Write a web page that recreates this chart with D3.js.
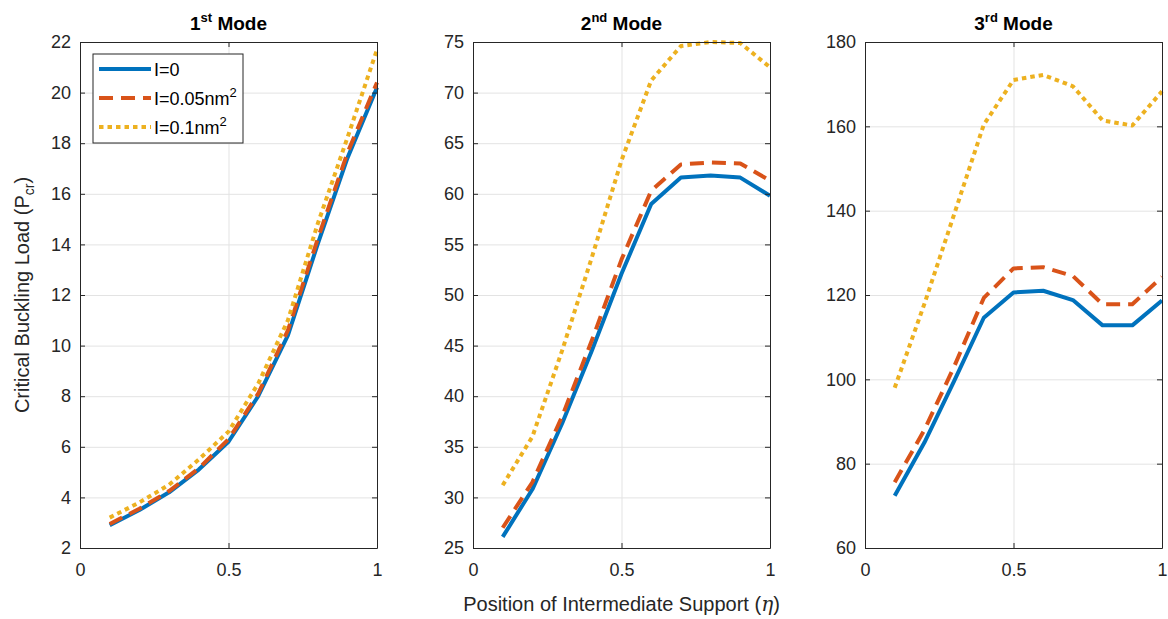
<!DOCTYPE html>
<html>
<head>
<meta charset="utf-8">
<script src="https://cdnjs.cloudflare.com/ajax/libs/d3/7.8.5/d3.min.js"></script>
<style>
    body { margin: 0; background: #fff; }
    svg { font-family: "Liberation Sans", Arial, sans-serif; }
</style>
</head>
<body>
<div class="chart-wrapper"></div>
<script>
// position of the intermediate support
var eta = [0.1, 0.2, 0.3, 0.4, 0.5, 0.6, 0.7, 0.8, 0.9, 1.0];

// 1st mode
var mode1_I0 = [2.9, 3.5, 4.2, 5.1, 6.2, 8.0, 10.4, 14.0, 17.4, 20.2];
var mode1_I005 = [2.95, 3.55, 4.25, 5.15, 6.3, 8.1, 10.6, 14.2, 17.6, 20.4];
var mode1_I01 = [3.2, 3.8, 4.5, 5.5, 6.6, 8.5, 11.0, 14.8, 18.2, 21.7];

// 2nd mode
var mode2_I0 = [26.1, 30.8, 37.3, 44.5, 52.1, 59.0, 61.6, 61.8, 61.6, 59.8];
var mode2_I005 = [27.0, 31.5, 38.0, 45.5, 53.5, 60.3, 62.9, 63.1, 63.0, 61.3];
var mode2_I01 = [31.2, 36.0, 44.5, 53.7, 63.3, 71.2, 74.6, 75.0, 74.9, 72.5];

// 3rd mode
var mode3_I0 = [72.4, 85.0, 99.6, 114.6, 120.6, 121.0, 118.8, 112.8, 112.8, 118.7];
var mode3_I005 = [75.6, 88.0, 103.0, 119.3, 126.3, 126.6, 124.5, 117.8, 117.8, 124.3];
var mode3_I01 = [98.0, 117.9, 139.1, 160.4, 171.0, 172.2, 169.5, 161.4, 160.2, 168.3];

var xTicks = [0, 0.5, 1];
var yTicks1 = [2, 4, 6, 8, 10, 12, 14, 16, 18, 20, 22];
var yTicks2 = [25, 30, 35, 40, 45, 50, 55, 60, 65, 70, 75];
var yTicks3 = [60, 80, 100, 120, 140, 160, 180];

var seriesNames = ["I=0", "I=0.05nm", "I=0.1nm"];
var seriesSup = ["", "2", "2"];
var colors = ["#0072BD", "#D95319", "#EDB120"];
var dashes = [null, "14,8", "4.5,4"];

var panels = [
    {title: "1", sup: "st", data: [mode1_I0, mode1_I005, mode1_I01], ticks: yTicks1, left: 80},
    {title: "2", sup: "nd", data: [mode2_I0, mode2_I005, mode2_I01], ticks: yTicks2, left: 473},
    {title: "3", sup: "rd", data: [mode3_I0, mode3_I005, mode3_I01], ticks: yTicks3, left: 865}
];

var plotW = 297, marginTop = 42, plotH = 506;
var axisColor = "#262626";

var svg = d3.select(".chart-wrapper").append("svg")
    .attr("width", 1168)
    .attr("height", 619);

panels.forEach(function (p) {
    var x = d3.scaleLinear().domain([0, 1]).range([0, plotW]);
    var y = d3.scaleLinear().domain([p.ticks[0], p.ticks[p.ticks.length - 1]]).range([plotH, 0]);

    var g = svg.append("g")
        .attr("transform", "translate(" + p.left + "," + marginTop + ")");

    // grid
    g.append("g")
        .attr("class", "grid")
        .attr("transform", "translate(0," + plotH + ")")
        .call(d3.axisBottom(x).tickValues(xTicks).tickSize(-plotH).tickFormat(""))
        .call(function (s) { s.select(".domain").remove(); });
    g.append("g")
        .attr("class", "grid")
        .call(d3.axisLeft(y).tickValues(p.ticks).tickSize(-plotW).tickFormat(""))
        .call(function (s) { s.select(".domain").remove(); });
    g.selectAll(".grid line").attr("stroke", "#e3e3e3").attr("stroke-width", 1);

    // lines
    var line = d3.line()
        .x(function (d, i) { return x(eta[i]); })
        .y(function (d) { return y(d); });

    p.data.forEach(function (vals, k) {
        g.append("path")
            .datum(vals)
            .attr("fill", "none")
            .attr("stroke", colors[k])
            .attr("stroke-width", 4)
            .attr("stroke-linejoin", "round")
            .attr("stroke-dasharray", dashes[k])
            .attr("d", line);
    });

    // axes (box with inward ticks)
    var xAxis = d3.axisBottom(x).tickValues(xTicks).tickSizeInner(-5).tickSizeOuter(0)
        .tickPadding(15).tickFormat(d3.format("~g"));
    var yAxis = d3.axisLeft(y).tickValues(p.ticks).tickSizeInner(-5).tickSizeOuter(0)
        .tickPadding(9);

    g.append("g")
        .attr("class", "axis")
        .attr("transform", "translate(0," + plotH + ")")
        .call(xAxis);
    g.append("g")
        .attr("class", "axis")
        .call(yAxis);
    g.append("g")
        .attr("class", "axis")
        .call(d3.axisTop(x).tickValues(xTicks).tickSizeInner(-5).tickSizeOuter(0).tickFormat(""));
    g.append("g")
        .attr("class", "axis")
        .attr("transform", "translate(" + plotW + ",0)")
        .call(d3.axisRight(y).tickValues(p.ticks).tickSizeInner(-5).tickSizeOuter(0).tickFormat(""));

    g.selectAll(".axis .domain").attr("stroke", axisColor);
    g.selectAll(".axis line").attr("stroke", axisColor);
    g.selectAll(".axis text")
        .attr("fill", axisColor)
        .style("font-size", "18px")
        .style("font-family", "'Liberation Sans', Arial, sans-serif");

    // title
    var t = svg.append("text")
        .attr("x", p.left + plotW / 2)
        .attr("y", 30)
        .attr("text-anchor", "middle")
        .attr("fill", "#000")
        .style("font-weight", "bold")
        .style("font-size", "19px");
    t.append("tspan").text(p.title);
    t.append("tspan").attr("dy", -8).style("font-size", "13px").text(p.sup);
    t.append("tspan").attr("dy", 8).text(" Mode");
});

// y label
var yl = svg.append("text")
    .attr("transform", "translate(29," + (marginTop + plotH / 2) + ") rotate(-90)")
    .attr("text-anchor", "middle")
    .attr("fill", axisColor)
    .style("font-size", "20px");
yl.append("tspan").text("Critical Buckling Load (P");
yl.append("tspan").attr("dy", 5).style("font-size", "14px").text("cr");
yl.append("tspan").attr("dy", -5).text(")");

// x label
var xl = svg.append("text")
    .attr("x", 473 + plotW / 2)
    .attr("y", 611)
    .attr("text-anchor", "middle")
    .attr("fill", axisColor)
    .style("font-size", "20px");
xl.append("tspan").text("Position of Intermediate Support (");
xl.append("tspan").style("font-style", "italic").style("font-family", "'DejaVu Serif', serif").text("η");
xl.append("tspan").text(")");

// legend
var legend = svg.append("g").attr("transform", "translate(93,54)");
legend.append("rect")
    .attr("width", 150)
    .attr("height", 89)
    .attr("fill", "#fff")
    .attr("stroke", axisColor)
    .attr("stroke-width", 1);

seriesNames.forEach(function (name, k) {
    var row = legend.append("g").attr("transform", "translate(0," + (15 + k * 29) + ")");
    row.append("line")
        .attr("x1", 6).attr("x2", 58)
        .attr("stroke", colors[k])
        .attr("stroke-width", 4)
        .attr("stroke-dasharray", dashes[k]);
    var txt = row.append("text")
        .attr("x", 61)
        .attr("y", 7)
        .attr("fill", "#000")
        .style("font-size", "18px")
        .text(name);
    if (seriesSup[k]) {
        txt.append("tspan").attr("dy", -8).style("font-size", "13px").text(seriesSup[k]);
    }
});
</script>
</body>
</html>
